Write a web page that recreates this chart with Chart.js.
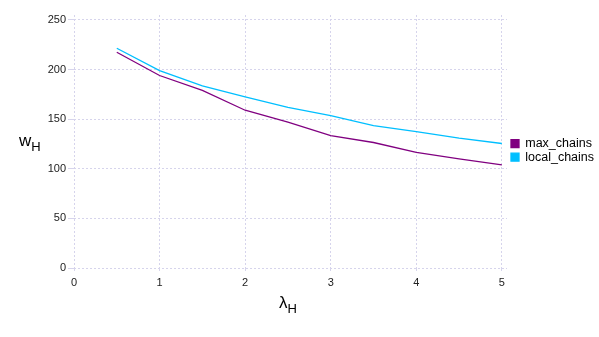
<!DOCTYPE html>
<html>
<head>
<meta charset="utf-8">
<script src="https://cdn.jsdelivr.net/npm/chart.js@4/dist/chart.umd.min.js"></script>
<style>
  html, body { margin: 0; padding: 0; background: #fff; }
  #wrap { width: 599px; height: 337px; }
</style>
</head>
<body>
<div id="wrap"><canvas id="chart" width="599" height="337"></canvas></div>
<script>
// lambda_H values (x) and w_H for each method
const lambdaH = [0.5, 1, 1.5, 2, 2.5, 3, 3.5, 4, 4.5, 5];
const maxChains = [217.5, 194, 179, 159, 147, 133.5, 126.5, 116.5, 110, 104];
const localChains = [221.5, 199, 183.5, 172.5, 162, 153.5, 143.5, 137.5, 131, 125.5];
const yTicks = [0, 50, 100, 150, 200, 250];
const xTicks = [0, 1, 2, 3, 4, 5];

const FONT = '"Liberation Sans", Arial, Helvetica, sans-serif';
const GRID = '#d6d4ec';

function toPoints(ys) {
    return lambdaH.map((x, i) => ({ x: x, y: ys[i] }));
}

// draws the axis titles with subscripts (w_H, lambda_H)
const axisTitles = {
    id: 'axisTitles',
    afterDraw(chart) {
        const ctx = chart.ctx;
        const drawSub = (main, sub, x, y) => {
            ctx.save();
            ctx.fillStyle = '#000';
            ctx.textBaseline = 'alphabetic';
            ctx.textAlign = 'left';
            ctx.font = '17px ' + FONT;
            ctx.fillText(main, x, y);
            const w = ctx.measureText(main).width;
            ctx.font = '13px ' + FONT;
            ctx.fillText(sub, x + w, y + 5);
            ctx.restore();
        };
        drawSub('w', 'H', 19, 146);
        drawSub('λ', 'H', 279, 308);
    }
};

// fixes the legend column width so the plot area ends where the original does
const legendWidth = {
    id: 'legendWidth',
    afterInit(chart) {
        const legend = chart.legend;
        if (!legend) return;
        const fit = legend.fit;
        legend.fit = function () {
            fit.call(this);
            this.width = 92;
        };
    },
    afterLayout(chart) {
        const legend = chart.legend;
        if (!legend) return;
        legend.left += 3;
        legend.right += 3;
    }
};

new Chart(document.getElementById('chart').getContext('2d'), {
    type: 'line',
    data: {
        datasets: [{
            label: 'max_chains',
            data: toPoints(maxChains),
            borderColor: '#800080',
            backgroundColor: '#800080',
            borderWidth: 1.3,
            pointRadius: 0,
            tension: 0
        }, {
            label: 'local_chains',
            data: toPoints(localChains),
            borderColor: '#00bfff',
            backgroundColor: '#00bfff',
            borderWidth: 1.3,
            pointRadius: 0,
            tension: 0
        }]
    },
    options: {
        responsive: false,
        animation: false,
        layout: { padding: { left: 0, right: 0, top: 15, bottom: 0 } },
        scales: {
            x: {
                type: 'linear',
                min: 0,
                max: 5.06,
                afterBuildTicks: s => { s.ticks = xTicks.map(v => ({ value: v })); },
                afterFit: s => { s.height = 337 - 268; },
                ticks: { color: '#222', font: { family: FONT, size: 11 }, padding: 5, maxRotation: 0 },
                grid: { color: GRID, tickLength: 3, lineWidth: 1 },
                border: { display: false, dash: [2, 2] }
            },
            y: {
                min: 0,
                max: 255,
                afterBuildTicks: s => { s.ticks = yTicks.map(v => ({ value: v })); },
                afterFit: s => { s.width = 74; },
                ticks: { color: '#222', font: { family: FONT, size: 11 }, padding: 2 },
                grid: { color: GRID, tickLength: 6, lineWidth: 1 },
                border: { display: false, dash: [2, 2] }
            }
        },
        plugins: {
            legend: {
                position: 'right',
                align: 'start',
                title: { display: true, text: '', padding: { top: 107, bottom: 0 } },
                labels: {
                    boxWidth: 8,
                    boxHeight: 8,
                    padding: 1,
                    color: '#000',
                    font: { family: FONT, size: 12.5 }
                }
            },
            tooltip: { enabled: false }
        }
    },
    plugins: [axisTitles, legendWidth]
});
</script>
</body>
</html>
